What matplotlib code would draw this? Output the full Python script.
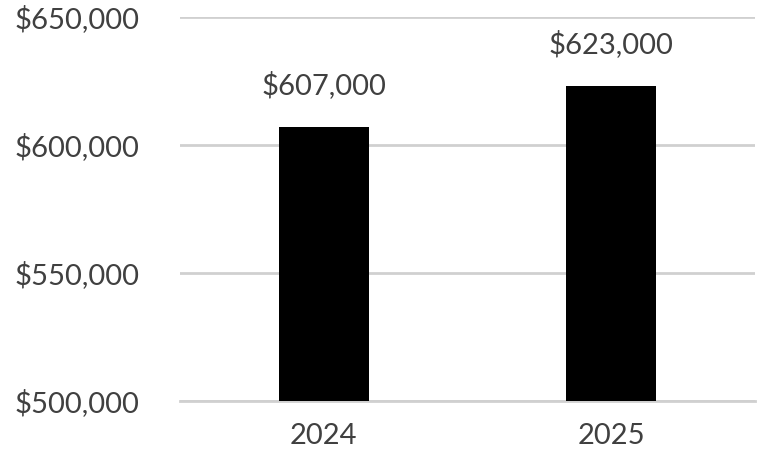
import matplotlib.pyplot as plt
from matplotlib.ticker import FuncFormatter

years = ["2024", "2025"]
revenue = [607000, 623000]
y_ticks = [500000, 550000, 600000, 650000]

plt.rcParams["font.family"] = ["Lato", "DejaVu Sans"]
text_color = "#404040"
grid_color = "#d0d0d0"

fig = plt.figure(figsize=(7.7, 4.67), dpi=100)
ax = fig.add_axes([180 / 770, 1 - 401 / 467, 575 / 770, 384 / 467])

x = range(len(years))
bars = ax.bar(x, revenue, width=0.313, color="black", zorder=3)

for rect, val in zip(bars, revenue):
    ax.annotate(f"${val:,.0f}", (rect.get_x() + rect.get_width() / 2, val),
                xytext=(0, 20), textcoords="offset points", ha="center",
                va="bottom", fontsize=21, color=text_color)

ax.set_xlim(-0.5, len(years) - 0.5)
ax.set_ylim(y_ticks[0], y_ticks[-1])
ax.set_yticks(y_ticks)
ax.yaxis.set_major_formatter(FuncFormatter(lambda v, p: f"${v:,.0f}"))
ax.set_xticks(list(x))
ax.set_xticklabels(years)
ax.tick_params(axis="both", length=0, labelsize=21, labelcolor=text_color)
ax.tick_params(axis="y", pad=29)
ax.tick_params(axis="x", pad=16)

ax.grid(axis="y", color=grid_color, linewidth=2, zorder=0)
ax.set_axisbelow(True)
for side in ["top", "right", "left"]:
    ax.spines[side].set_visible(False)
ax.spines["bottom"].set_color(grid_color)
ax.spines["bottom"].set_linewidth(2)

fig.savefig("out.png", dpi=100)
